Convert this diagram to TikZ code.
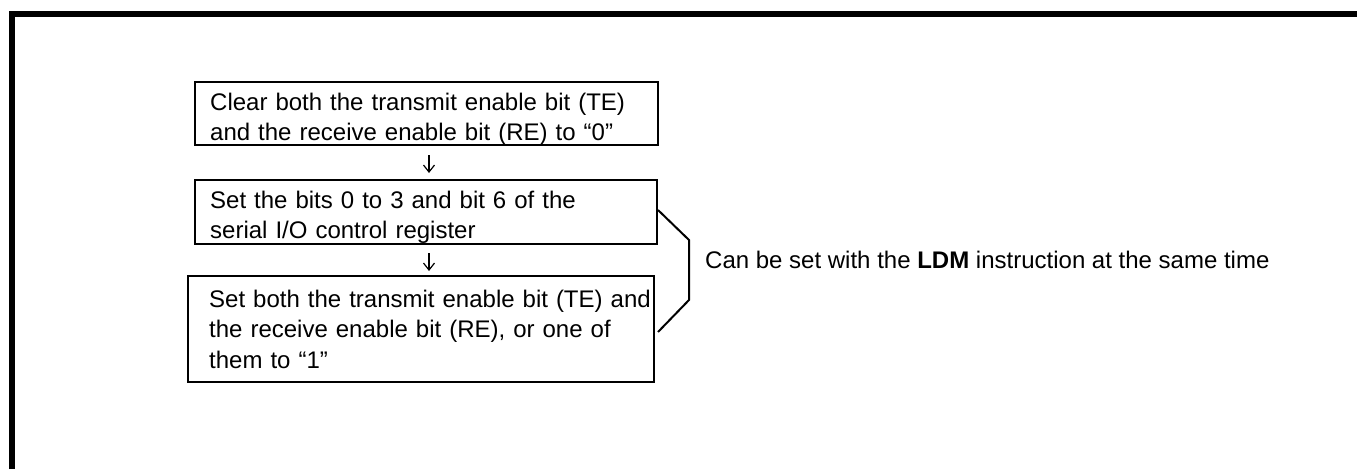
\documentclass[tikz,border=0pt]{standalone}
\usepackage{fontspec}
\setmainfont{Liberation Sans}
\usetikzlibrary{calc,arrows.meta}
\begin{document}
\begin{tikzpicture}[x=1pt,y=-1pt,
  box/.style={draw, line width=2pt, anchor=north west, inner sep=0pt},
  txt/.style={anchor=base west, inner sep=0pt, text width=#1, align=left,
    font=\fontsize{24}{30.5}\selectfont},
  flow/.style={draw, line width=1.2pt, -{Straight Barb[length=7pt,width=11pt,line width=1.2pt]}},
  bracket/.style={draw, line width=2pt},
  frame/.style={draw, line width=5.5pt}]
\useasboundingbox (0,0) rectangle (1357,469);
\draw[frame] (12,469) -- (12,14) -- (1357,14);
% boxes
\node[box, minimum width=463pt, minimum height=63pt] (b1) at (194,81) {};
\node[box, minimum width=462pt, minimum height=64pt] (b2) at (194,179) {};
\node[box, minimum width=466pt, minimum height=106pt] (b3) at (187,275) {};
% texts
\node[txt=445pt] (t1) at (210,110) {Clear both the transmit enable bit (TE)\\and the receive enable bit (RE) to “0”};
\node[txt=440pt] (t2) at (210,208) {Set the bits 0 to 3 and bit 6 of the\\serial I/O control register};
\node[txt=445pt] (t3) at (209,307) {Set both the transmit enable bit (TE) and\\the receive enable bit (RE), or one of\\them to “1”};
% arrows
\draw[flow] ($(b1.south)+(2.5,9)$) -- ($(b2.north)+(3,-6)$);
\draw[flow] ($(b2.south)+(3,8)$) -- ($(b3.north)+(8,-4)$);
% bracket
\draw[bracket] ($(b2.east)+(0,-2)$) coordinate (k0) -- ++(31,30) coordinate (k1) -- ++(0,60) coordinate (k2) -- ($(b3.east)+(3,3)$);
\node[anchor=base west, inner sep=0pt, font=\fontsize{24}{30}\selectfont] (lbl) at (705,268) {Can be set with the \textbf{LDM} instruction at the same time};
\end{tikzpicture}
\end{document}
